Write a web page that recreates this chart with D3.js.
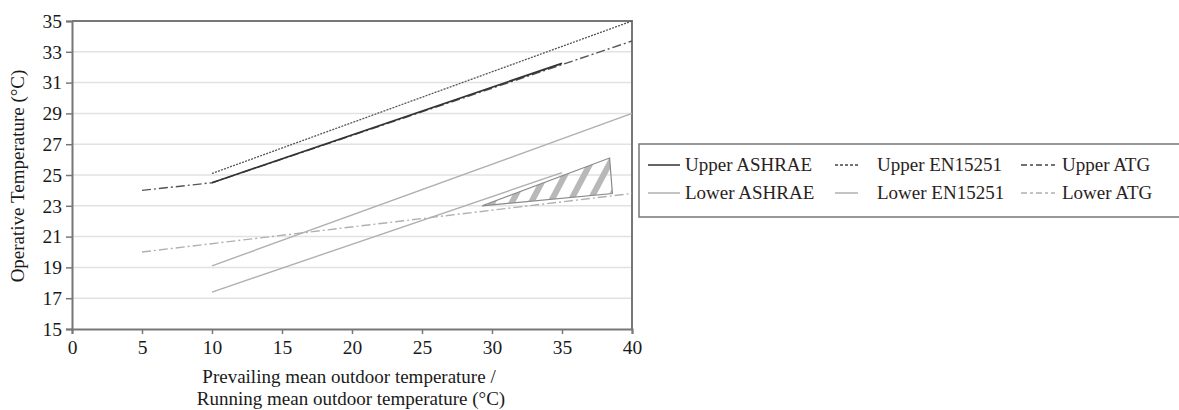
<!DOCTYPE html>
<html>
<head>
<meta charset="utf-8">
<script src="https://cdn.jsdelivr.net/npm/d3@7/dist/d3.min.js"></script>
<style>
  html, body { margin: 0; padding: 0; background: #fff; }
  svg { display: block; }
  svg text { font-family: "Liberation Serif", "DejaVu Serif", serif; }
</style>
</head>
<body>
<svg id="chart" width="1179" height="410"></svg>
<script>
// Adaptive comfort limits (operative temperature vs outdoor mean temperature)
const xTicks = [0, 5, 10, 15, 20, 25, 30, 35, 40];
const yTicks = [15, 17, 19, 21, 23, 25, 27, 29, 31, 33, 35];

const upperASHRAE = [[10, 24.5], [35, 32.25]];
const lowerASHRAE = [[10, 17.4], [35, 25.15]];
const upperEN15251 = [[10, 25.1], [40, 35.0]];
const lowerEN15251 = [[10, 19.1], [40, 29.0]];
const upperATG = [[5, 24.0], [10, 24.5], [40, 33.7]];
const lowerATG = [[5, 20.0], [40, 23.8]];
// hatched overheating zone
const hatchZone = [[29.3, 23.0], [38.4, 26.1], [38.6, 23.8]];

const legendLabels = [
  "Upper ASHRAE", "Upper EN15251", "Upper ATG",
  "Lower ASHRAE", "Lower EN15251", "Lower ATG"
];

const svg = d3.select("#chart");
const plotL = 72, plotR = 632, plotT = 21, plotB = 329;

const x = d3.scaleLinear().domain([0, 40]).range([plotL, plotR]);
const y = d3.scaleLinear().domain([15, 35]).range([plotB, plotT]);

// hatch pattern
const defs = svg.append("defs");
const pat = defs.append("pattern")
  .attr("id", "hatch")
  .attr("patternUnits", "userSpaceOnUse")
  .attr("width", 17).attr("height", 17)
  .attr("patternTransform", "rotate(28)");
pat.append("rect").attr("x", 0).attr("y", 0).attr("width", 6).attr("height", 17)
  .attr("fill", "#b8b8b8");

// gridlines
svg.append("g").selectAll("line")
  .data(yTicks.filter(d => d > 15 && d < 35))
  .join("line")
  .attr("x1", plotL).attr("x2", plotR)
  .attr("y1", d => y(d)).attr("y2", d => y(d))
  .attr("stroke", "#e2e2e2").attr("stroke-width", 1.5);

// axes
const xAxis = svg.append("g")
  .attr("transform", `translate(0,${plotB})`)
  .call(d3.axisBottom(x).tickValues(xTicks).tickSize(5).tickPadding(6).tickFormat(d3.format("d")));
const yAxis = svg.append("g")
  .attr("transform", `translate(${plotL},0)`)
  .call(d3.axisLeft(y).tickValues(yTicks).tickSize(6).tickPadding(4).tickFormat(d3.format("d")));
[xAxis, yAxis].forEach(g => {
  g.attr("font-family", null).attr("font-size", null);
  g.select(".domain").attr("stroke", "#777").attr("stroke-width", 2);
  g.selectAll(".tick line").attr("stroke", "#777").attr("stroke-width", 1.5);
  g.selectAll(".tick text").attr("fill", "#1a1a1a").style("font-size", "19.5px");
});

// plot frame (top and right)
svg.append("path")
  .attr("d", `M${plotL},${plotT}H${plotR}V${plotB}`)
  .attr("fill", "none").attr("stroke", "#777").attr("stroke-width", 2);

const line = d3.line().x(d => x(d[0])).y(d => y(d[1]));

// hatched zone
svg.append("path")
  .attr("d", line(hatchZone) + "Z")
  .attr("fill", "url(#hatch)")
  .attr("stroke", "#8a8a8a").attr("stroke-width", 1.2);

const series = [
  { data: lowerATG, color: "#b0b0b0", dash: "9,3,2,3", w: 1.4 },
  { data: lowerASHRAE, color: "#b0b0b0", dash: null, w: 1.4 },
  { data: lowerEN15251, color: "#b0b0b0", dash: null, w: 1.4 },
  { data: upperATG, color: "#555", dash: "9,3,2,3", w: 1.4 },
  { data: upperEN15251, color: "#555", dash: "2,1.2", w: 1.3 },
  { data: upperASHRAE, color: "#333", dash: null, w: 1.7 }
];
svg.append("g").selectAll("path")
  .data(series)
  .join("path")
  .attr("d", d => line(d.data))
  .attr("fill", "none")
  .attr("stroke", d => d.color)
  .attr("stroke-width", d => d.w)
  .attr("stroke-dasharray", d => d.dash);

// axis titles
svg.append("text")
  .attr("transform", `translate(24,176) rotate(-90)`)
  .attr("text-anchor", "middle")
  .attr("fill", "#1a1a1a")
  .style("font-size", "19px")
  .text("Operative Temperature (°C)");

const xt = svg.append("text")
  .attr("text-anchor", "middle")
  .attr("fill", "#1a1a1a")
  .style("font-size", "19px");
xt.append("tspan").attr("x", 349).attr("y", 383).text("Prevailing mean outdoor temperature /");
xt.append("tspan").attr("x", 351).attr("y", 405).text("Running mean outdoor temperature (°C)");

// legend
const lg = svg.append("g");
lg.append("rect")
  .attr("x", 639).attr("y", 144).attr("width", 560).attr("height", 73)
  .attr("fill", "#fff").attr("stroke", "#777").attr("stroke-width", 1.5);

const legendStyles = [
  { color: "#333", dash: null },
  { color: "#444", dash: "3,2" },
  { color: "#444", dash: "6,3,3,3" },
  { color: "#b0b0b0", dash: null },
  { color: "#b0b0b0", dash: null },
  { color: "#b0b0b0", dash: "6,3,3,3" }
];
const colX = [[648, 680, 685], [835, 858, 877], [1021, 1055, 1062]];
const rowY = [165, 193];
legendLabels.forEach((lab, i) => {
  const c = i % 3, r = Math.floor(i / 3);
  lg.append("line")
    .attr("x1", colX[c][0]).attr("x2", colX[c][1])
    .attr("y1", rowY[r]).attr("y2", rowY[r])
    .attr("stroke", legendStyles[i].color)
    .attr("stroke-width", 1.5)
    .attr("stroke-dasharray", legendStyles[i].dash);
  lg.append("text")
    .attr("x", colX[c][2]).attr("y", rowY[r] + 6)
    .attr("fill", "#2a2222")
    .style("font-size", "19px")
    .text(lab);
});
</script>
</body>
</html>
